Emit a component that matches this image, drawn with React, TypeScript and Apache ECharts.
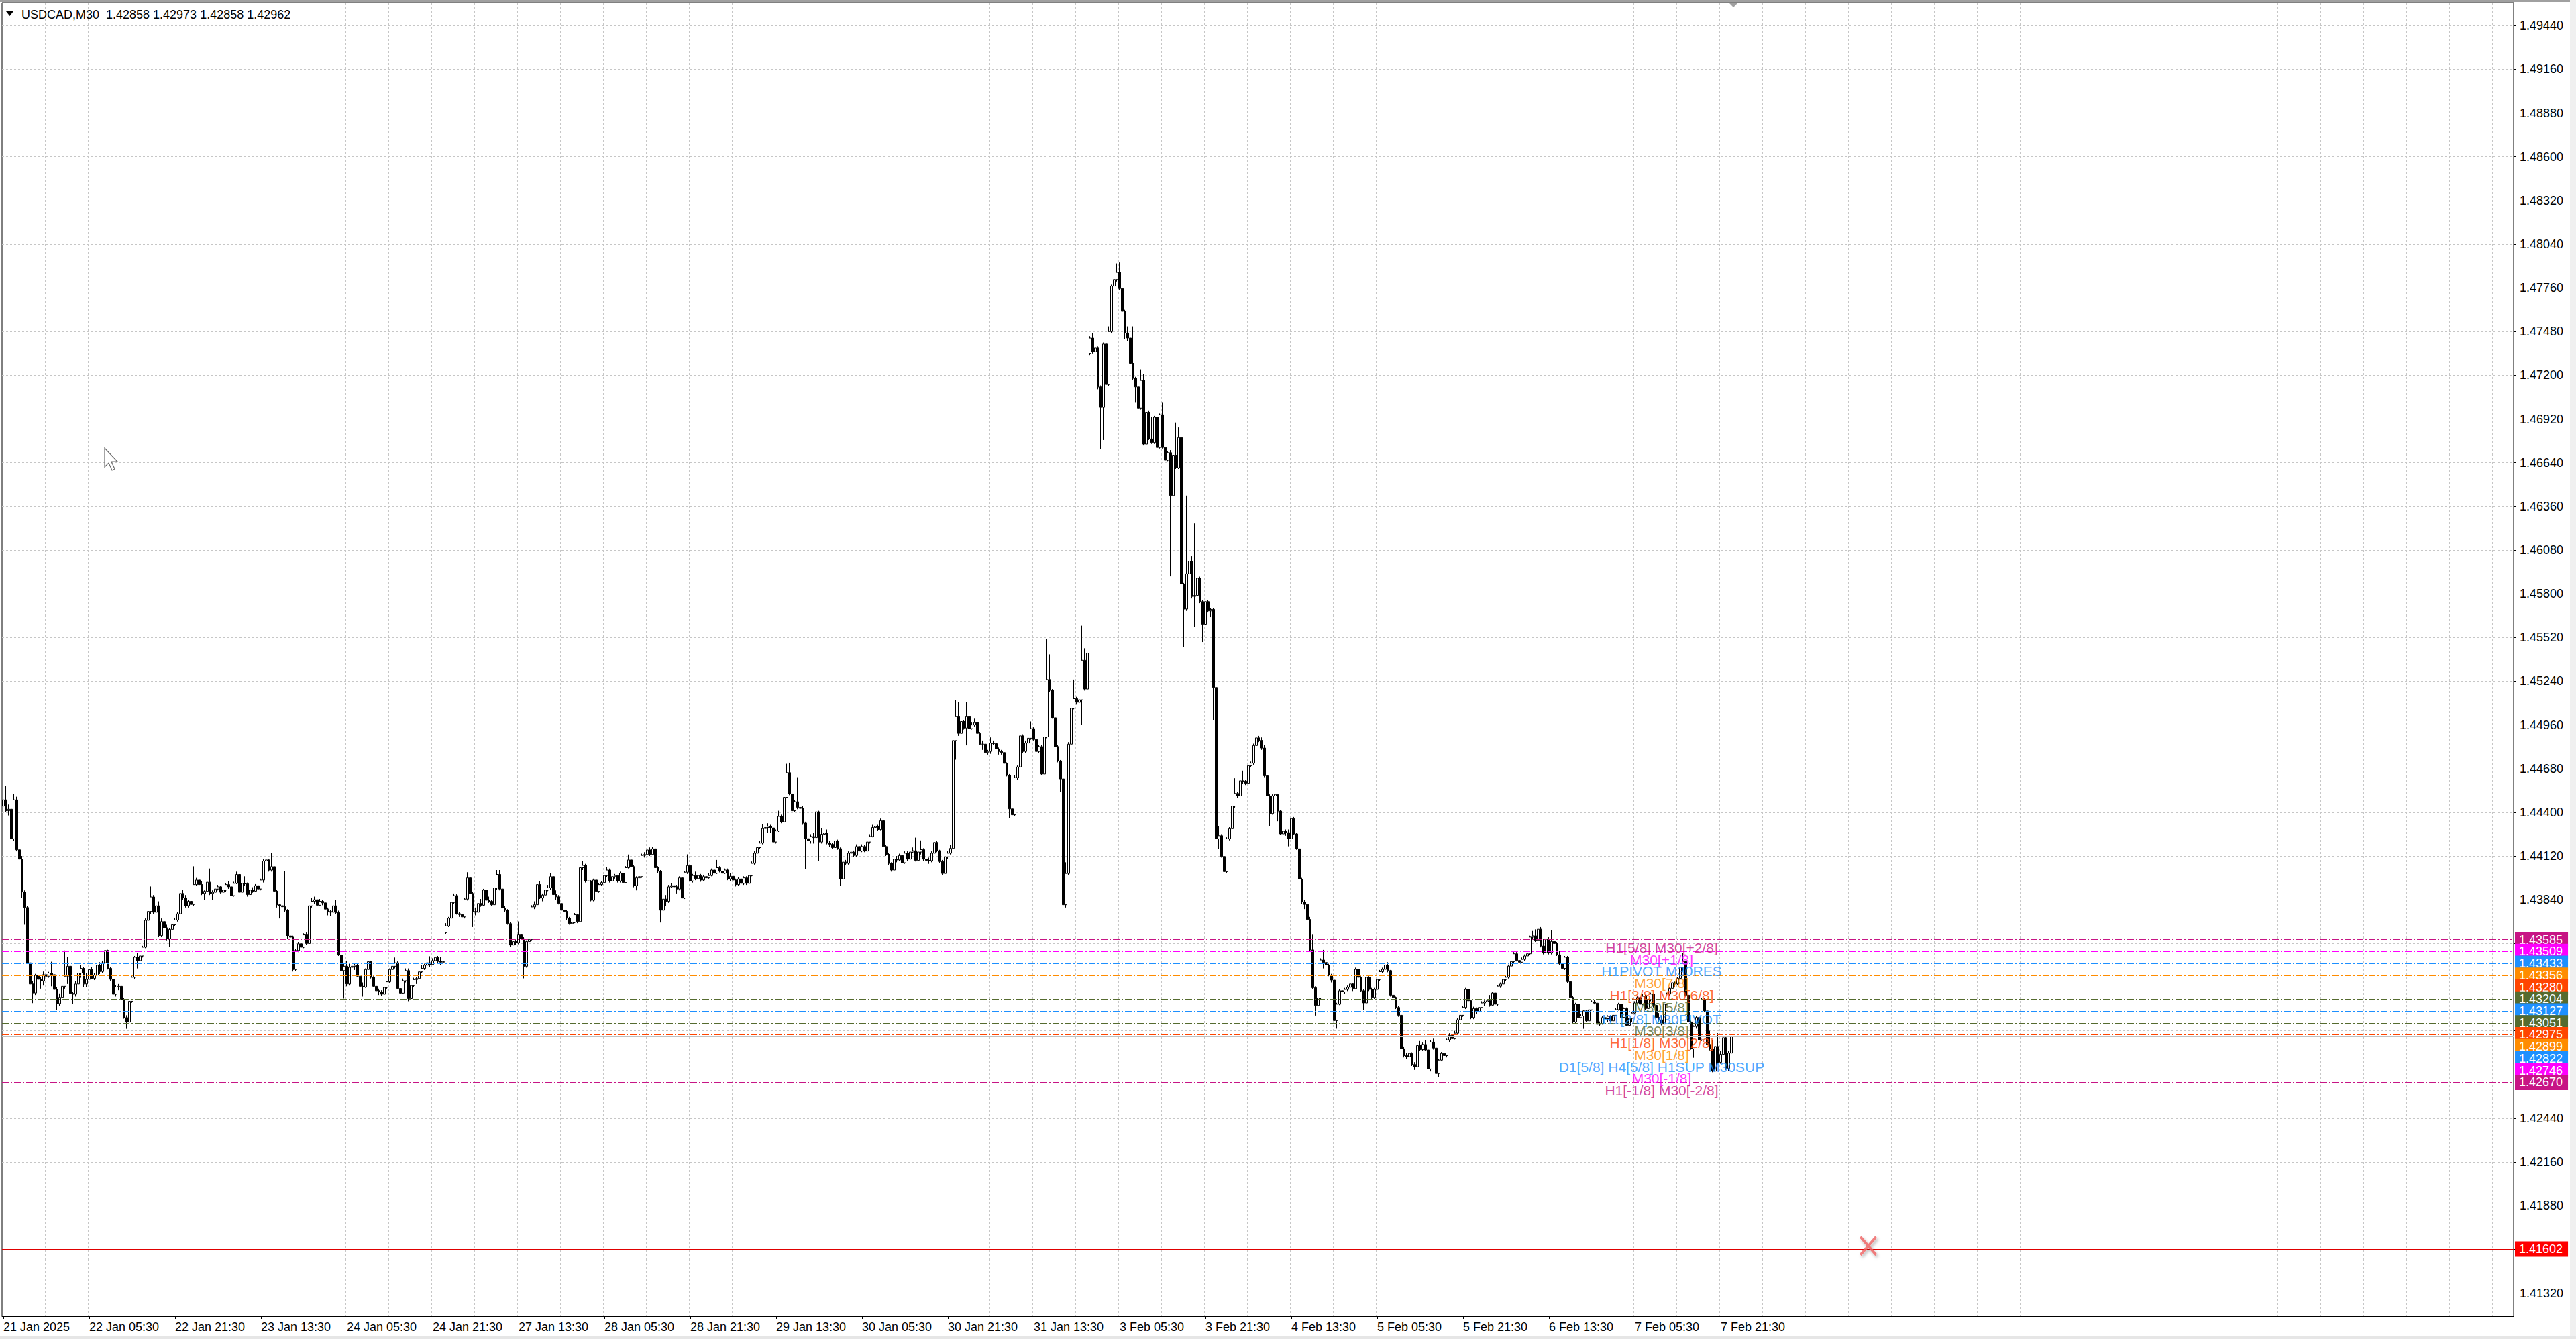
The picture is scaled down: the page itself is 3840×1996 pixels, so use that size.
import React, { useEffect, useRef } from 'react';
import * as echarts from 'echarts';

// chart window header
const symbolTitle = 'USDCAD,M30';
const lastBarQuote = '1.42858 1.42973 1.42858 1.42962';

// trading days on screen, the first one starts at 13:30
const tradingDays = ['21 Jan', '22 Jan', '23 Jan', '24 Jan', '27 Jan', '28 Jan', '29 Jan', '30 Jan', '31 Jan', '3 Feb', '4 Feb', '5 Feb', '6 Feb', '7 Feb'];
const firstDayLabel = '21 Jan 2025';
const firstDayStartSlot = 27;
const barsPerDay = 48;
const totalSlots = 936; // bar slots incl. the empty shift area on the right

// M30 bars: [open, close, low, high] in points above 1.40000
const jan21 = [
  [4440, 4480, 4400, 4520], [4480, 4410, 4400, 4568], [4410, 4420, 4380, 4450], [4420, 4230, 4220, 4440], [4230, 4480, 4215, 4520],
  [4480, 4160, 4150, 4500], [4160, 4100, 4000, 4245], [4100, 3890, 3850, 4120], [3890, 3790, 3680, 3900], [3790, 3436, 3430, 3800],
  [3436, 3300, 3290, 3470], [3300, 3243, 3178, 3320], [3243, 3357, 3230, 3365], [3357, 3330, 3300, 3390], [3330, 3320, 3270, 3345],
  [3320, 3360, 3290, 3380], [3360, 3350, 3320, 3390], [3350, 3370, 3340, 3378], [3370, 3360, 3285, 3443], [3360, 3265, 3250, 3380],
  [3265, 3175, 3135, 3280],
];
const jan22 = [
  [3175, 3215, 3160, 3240], [3215, 3285, 3200, 3300], [3285, 3350, 3270, 3515], [3350, 3414, 3300, 3472], [3414, 3240, 3230, 3420],
  [3240, 3235, 3171, 3250], [3235, 3300, 3220, 3320], [3300, 3370, 3290, 3380], [3370, 3400, 3340, 3420], [3400, 3300, 3280, 3410],
  [3300, 3330, 3280, 3370], [3330, 3392, 3320, 3400], [3392, 3336, 3330, 3410], [3336, 3357, 3325, 3370], [3357, 3421, 3350, 3472],
  [3421, 3380, 3364, 3440], [3380, 3436, 3370, 3450], [3436, 3515, 3420, 3550], [3515, 3400, 3393, 3520], [3400, 3330, 3321, 3410],
  [3330, 3235, 3228, 3340], [3235, 3280, 3220, 3293], [3280, 3285, 3260, 3300], [3285, 3200, 3190, 3295], [3200, 3085, 3078, 3210],
  [3085, 3056, 3013, 3100], [3056, 3190, 3050, 3200], [3190, 3343, 3180, 3350], [3343, 3472, 3330, 3480], [3472, 3450, 3400, 3500],
  [3450, 3480, 3407, 3490], [3480, 3536, 3470, 3545], [3536, 3708, 3530, 3720], [3708, 3765, 3690, 3780], [3765, 3858, 3750, 3925],
  [3858, 3760, 3750, 3870], [3760, 3801, 3740, 3830], [3801, 3610, 3600, 3830], [3610, 3700, 3600, 3720], [3700, 3660, 3640, 3715],
  [3660, 3590, 3580, 3680], [3590, 3650, 3540, 3660], [3650, 3680, 3640, 3700], [3680, 3710, 3670, 3725], [3710, 3750, 3700, 3760],
  [3750, 3880, 3740, 3900], [3880, 3852, 3840, 3905], [3852, 3802, 3790, 3870],
];
const jan23 = [
  [3802, 3830, 3790, 3840], [3830, 3810, 3800, 3840], [3810, 3937, 3800, 4054], [3937, 3966, 3930, 3980], [3966, 3937, 3925, 3975],
  [3937, 3880, 3870, 3960], [3880, 3894, 3840, 3900], [3894, 3952, 3880, 3960], [3952, 3880, 3870, 4040], [3880, 3888, 3840, 3900],
  [3888, 3909, 3880, 3920], [3909, 3923, 3900, 3935], [3923, 3888, 3880, 3930], [3888, 3902, 3870, 3910], [3902, 3937, 3890, 3945],
  [3937, 3923, 3910, 3960], [3923, 3866, 3860, 3940], [3866, 3945, 3860, 3955], [3945, 4002, 3940, 4020], [4002, 3888, 3880, 4010],
  [3888, 3945, 3880, 3955], [3945, 3942, 3930, 3990], [3942, 3873, 3860, 3950], [3873, 3902, 3865, 3910], [3902, 3895, 3885, 3920],
  [3895, 3930, 3890, 3940], [3930, 3909, 3900, 3935], [3909, 3966, 3900, 3975], [3966, 4088, 3950, 4100], [4088, 4095, 4040, 4110],
  [4095, 4030, 4020, 4100], [4030, 4052, 4020, 4138], [4052, 3895, 3890, 4060], [3895, 3808, 3790, 3905], [3808, 3802, 3720, 3815],
  [3802, 3795, 3730, 3820], [3795, 3773, 3760, 4023], [3773, 3608, 3590, 3780], [3608, 3600, 3480, 3615], [3600, 3393, 3380, 3610],
  [3393, 3515, 3385, 3525], [3515, 3558, 3505, 3570], [3558, 3536, 3460, 3580], [3536, 3615, 3530, 3625], [3615, 3560, 3550, 3630],
  [3560, 3801, 3550, 3815], [3801, 3830, 3790, 3850], [3830, 3840, 3815, 3860],
];
const jan24 = [
  [3840, 3805, 3795, 3850], [3805, 3830, 3800, 3845], [3830, 3820, 3805, 3840], [3820, 3780, 3770, 3830], [3780, 3765, 3740, 3790],
  [3765, 3760, 3735, 3775], [3760, 3801, 3750, 3810], [3801, 3758, 3750, 3840], [3758, 3486, 3480, 3770], [3486, 3386, 3370, 3495],
  [3386, 3414, 3207, 3430], [3414, 3300, 3285, 3450], [3300, 3407, 3290, 3436], [3407, 3414, 3395, 3425], [3414, 3420, 3390, 3430],
  [3420, 3350, 3345, 3430], [3350, 3285, 3280, 3360], [3285, 3280, 3220, 3310], [3280, 3393, 3275, 3400], [3393, 3443, 3385, 3490],
  [3443, 3343, 3335, 3450], [3343, 3285, 3280, 3350], [3285, 3257, 3150, 3295], [3257, 3250, 3230, 3270], [3250, 3235, 3225, 3260],
  [3235, 3278, 3220, 3290], [3278, 3314, 3270, 3320], [3314, 3393, 3305, 3400], [3393, 3414, 3380, 3500], [3414, 3436, 3400, 3470],
  [3436, 3271, 3265, 3445], [3271, 3242, 3235, 3280], [3242, 3321, 3235, 3335], [3321, 3386, 3310, 3400], [3386, 3207, 3190, 3400],
  [3207, 3290, 3180, 3336], [3290, 3328, 3280, 3340], [3328, 3335, 3300, 3345], [3335, 3378, 3325, 3385], [3378, 3400, 3370, 3420],
  [3400, 3421, 3390, 3430], [3421, 3436, 3415, 3445], [3436, 3425, 3410, 3478], [3425, 3450, 3420, 3465], [3450, 3470, 3440, 3485],
  [3470, 3445, 3430, 3480], [3445, 3440, 3420, 3475], [3440, 3443, 3360, 3455],
];
const jan27 = [
  [3629, 3672, 3620, 3690], [3672, 3722, 3665, 3730], [3722, 3823, 3715, 3866], [3823, 3866, 3815, 3880], [3866, 3751, 3745, 3875],
  [3751, 3745, 3730, 3760], [3745, 3730, 3658, 3760], [3730, 3844, 3720, 3850], [3844, 3980, 3835, 4016], [3980, 3880, 3870, 4016],
  [3880, 3765, 3665, 3890], [3765, 3760, 3740, 3790], [3760, 3816, 3755, 3825], [3816, 3805, 3795, 3845], [3805, 3902, 3800, 3910],
  [3902, 3837, 3830, 3915], [3837, 3830, 3820, 3860], [3830, 3808, 3800, 3840], [3808, 3916, 3800, 3930], [3916, 4002, 3905, 4030],
  [4002, 3909, 3900, 4030], [3909, 3787, 3780, 3925], [3787, 3773, 3760, 3800], [3773, 3687, 3680, 3780], [3687, 3550, 3540, 3695],
  [3550, 3572, 3530, 3600], [3572, 3565, 3550, 3590], [3565, 3615, 3555, 3701], [3615, 3590, 3580, 3625], [3590, 3414, 3336, 3600],
  [3414, 3572, 3405, 3580], [3572, 3586, 3560, 3600], [3586, 3794, 3580, 3805], [3794, 3808, 3780, 3830], [3808, 3937, 3800, 3950],
  [3937, 3851, 3845, 3960], [3851, 3870, 3830, 3880], [3870, 3902, 3860, 3930], [3902, 3916, 3895, 3935], [3916, 3988, 3905, 4010],
  [3988, 3873, 3865, 3995], [3873, 3859, 3840, 3900], [3859, 3816, 3810, 3870], [3816, 3773, 3765, 3830], [3773, 3765, 3720, 3780],
  [3765, 3722, 3710, 3775], [3722, 3687, 3680, 3730], [3687, 3695, 3675, 3720],
];
const jan28 = [
  [3695, 3744, 3690, 3755], [3744, 3700, 3690, 3750], [3700, 4045, 3695, 4159], [4045, 4060, 4030, 4090], [4060, 3960, 3950, 4070],
  [3960, 3960, 3940, 3980], [3960, 3837, 3830, 3965], [3837, 3966, 3830, 3975], [3966, 3894, 3885, 3990], [3894, 3937, 3885, 3945],
  [3937, 3950, 3930, 3960], [3950, 3995, 3940, 4005], [3995, 4030, 3985, 4050], [4030, 3960, 3950, 4040], [3960, 3988, 3950, 4000],
  [3988, 3995, 3975, 4005], [3995, 3960, 3950, 4000], [3960, 4010, 3950, 4020], [4010, 3950, 3940, 4020], [3950, 4045, 3945, 4055],
  [4045, 4095, 4040, 4130], [4095, 4052, 4045, 4110], [4052, 3930, 3920, 4060], [3930, 3980, 3900, 3990], [3980, 3988, 3970, 4000],
  [3988, 4124, 3980, 4135], [4124, 4130, 4110, 4145], [4130, 4159, 4120, 4200], [4159, 4130, 4120, 4175], [4130, 4166, 4125, 4180],
  [4166, 4045, 4040, 4175], [4045, 4023, 4010, 4055], [4023, 3773, 3694, 4030], [3773, 3844, 3760, 3855], [3844, 3830, 3800, 3870],
  [3830, 3923, 3820, 3935], [3923, 3930, 3915, 3945], [3930, 3923, 3900, 3950], [3923, 3909, 3880, 3935], [3909, 3980, 3900, 3990],
  [3980, 3851, 3840, 3995], [3851, 4016, 3845, 4025], [4016, 4059, 4005, 4131], [4059, 3960, 3950, 4070], [3960, 3995, 3950, 4005],
  [3995, 3975, 3965, 4020], [3975, 3995, 3970, 4010], [3995, 3966, 3955, 4005],
];
const jan29 = [
  [3966, 3988, 3960, 4000], [3988, 3980, 3970, 4000], [3980, 3995, 3975, 4010], [3995, 4030, 3990, 4040], [4030, 4010, 4000, 4045],
  [4010, 4045, 4005, 4095], [4045, 4023, 4015, 4055], [4023, 4010, 4000, 4035], [4010, 4030, 4005, 4040], [4030, 3973, 3965, 4040],
  [3973, 3990, 3960, 4010], [3990, 3966, 3955, 4000], [3966, 3937, 3925, 3975], [3937, 3973, 3930, 3985], [3973, 3945, 3935, 3980],
  [3945, 3980, 3935, 3990], [3980, 3945, 3935, 3990], [3945, 3995, 3940, 4005], [3995, 4073, 3990, 4085], [4073, 4138, 4065, 4150],
  [4138, 4174, 4130, 4185], [4174, 4203, 4165, 4215], [4203, 4296, 4195, 4324], [4296, 4303, 4290, 4320], [4303, 4310, 4270, 4330],
  [4310, 4300, 4270, 4320], [4300, 4210, 4200, 4310], [4210, 4281, 4200, 4290], [4281, 4374, 4275, 4410], [4374, 4339, 4330, 4385],
  [4339, 4496, 4330, 4505], [4496, 4654, 4490, 4711], [4654, 4518, 4510, 4718], [4518, 4410, 4224, 4530], [4410, 4468, 4400, 4480],
  [4468, 4432, 4420, 4625], [4432, 4425, 4400, 4580], [4425, 4331, 4320, 4440], [4331, 4231, 4038, 4340], [4231, 4217, 4160, 4240],
  [4217, 4245, 4200, 4260], [4245, 4238, 4200, 4270], [4238, 4403, 4230, 4460], [4403, 4210, 4088, 4410], [4210, 4260, 4200, 4300],
  [4260, 4267, 4250, 4303], [4267, 4203, 4195, 4290], [4203, 4195, 4180, 4215],
];
const jan30 = [
  [4195, 4174, 4165, 4205], [4174, 4217, 4165, 4240], [4217, 4167, 4160, 4225], [4167, 3973, 3930, 4175], [3973, 4081, 3965, 4090],
  [4081, 4073, 4060, 4095], [4073, 4138, 4065, 4150], [4138, 4145, 4130, 4155], [4145, 4124, 4115, 4155], [4124, 4181, 4115, 4195],
  [4181, 4152, 4145, 4190], [4152, 4181, 4145, 4195], [4181, 4152, 4145, 4190], [4152, 4210, 4145, 4220], [4210, 4245, 4200, 4260],
  [4245, 4303, 4240, 4320], [4303, 4310, 4295, 4340], [4310, 4290, 4280, 4320], [4290, 4346, 4285, 4360], [4346, 4181, 4175, 4355],
  [4181, 4131, 4120, 4190], [4131, 4073, 4060, 4140], [4073, 4030, 4020, 4080], [4030, 4100, 4020, 4110], [4100, 4095, 4080, 4120],
  [4095, 4123, 4090, 4135], [4123, 4077, 4070, 4130], [4077, 4138, 4070, 4150], [4138, 4100, 4090, 4150], [4100, 4146, 4090, 4155],
  [4146, 4154, 4140, 4175], [4154, 4092, 4085, 4238], [4092, 4146, 4085, 4160], [4146, 4161, 4130, 4220], [4161, 4100, 4090, 4170],
  [4100, 4092, 4000, 4110], [4092, 4090, 4070, 4110], [4090, 4138, 4080, 4150], [4138, 4207, 4130, 4225], [4207, 4154, 4145, 4215],
  [4154, 4085, 4075, 4160], [4085, 4008, 4000, 4095], [4008, 4115, 4000, 4125], [4115, 4138, 4100, 4150], [4138, 4169, 4130, 4190],
  [4169, 4860, 4160, 5950], [4860, 5013, 4737, 5121], [5013, 4906, 4890, 5105],
];
const jan31 = [
  [4906, 4982, 4900, 4990], [4982, 4940, 4930, 4990], [4940, 5013, 4829, 5105], [5013, 4936, 4925, 5020], [4936, 4960, 4930, 4975],
  [4960, 4975, 4950, 5000], [4975, 4906, 4895, 4985], [4906, 4837, 4830, 4915], [4837, 4837, 4800, 4860], [4837, 4783, 4722, 4845],
  [4783, 4790, 4770, 4800], [4790, 4844, 4775, 4880], [4844, 4840, 4830, 4860], [4840, 4806, 4800, 4850], [4806, 4790, 4770, 4815],
  [4790, 4783, 4770, 4800], [4783, 4714, 4700, 4790], [4714, 4637, 4630, 4720], [4637, 4422, 4361, 4645], [4422, 4384, 4315, 4430],
  [4384, 4622, 4375, 4640], [4622, 4691, 4610, 4700], [4691, 4890, 4685, 4900], [4890, 4790, 4780, 4900], [4790, 4844, 4780, 4860],
  [4844, 4875, 4835, 4885], [4875, 4936, 4865, 4982], [4936, 4867, 4860, 4945], [4867, 4790, 4780, 4875], [4790, 4821, 4780, 4830],
  [4821, 4645, 4640, 4830], [4645, 4883, 4614, 4890], [4883, 5251, 4875, 5512], [5251, 5182, 5170, 5412], [5182, 5006, 5000, 5190],
  [5006, 4821, 4675, 5015], [4821, 4729, 4720, 4830], [4729, 4614, 4530, 4735], [4614, 3808, 3731, 4620], [3808, 4008, 3790, 4080],
  [4008, 4837, 4000, 4850], [4837, 5067, 4830, 5080], [5067, 5128, 5060, 5251], [5128, 5105, 5090, 5140], [5105, 5121, 5100, 5140],
  [5121, 5374, 4960, 5596], [5374, 5190, 5180, 5451], [5190, 5420, 5180, 5527],
];
const feb3 = [
  [7341, 7438, 7330, 7450], [7438, 7351, 7340, 7471], [7351, 7374, 7044, 7503], [7374, 7125, 7110, 7385], [7125, 6995, 6727, 7135],
  [6995, 7400, 6785, 7410], [7400, 7141, 7130, 7503], [7141, 7480, 7130, 7513], [7480, 7771, 7470, 7780], [7771, 7813, 7760, 7830],
  [7813, 7859, 7800, 7917], [7859, 7755, 7745, 7923], [7755, 7610, 7351, 7765], [7610, 7471, 7432, 7620], [7471, 7438, 7420, 7513],
  [7438, 7277, 7265, 7448], [7277, 7180, 7170, 7513], [7180, 7125, 7028, 7190], [7125, 6990, 6979, 7244], [6990, 7167, 6980, 7238],
  [7167, 6759, 6750, 7206], [6759, 6963, 6750, 6970], [6963, 6792, 6785, 6975], [6792, 6769, 6760, 6931], [6769, 6931, 6760, 6940],
  [6931, 6737, 6656, 6940], [6737, 6947, 6730, 6955], [6947, 6737, 6730, 7028], [6737, 6656, 6645, 6745], [6656, 6704, 6650, 6715],
  [6704, 6429, 5912, 6720], [6429, 6688, 6420, 6700], [6688, 6607, 6600, 6898], [6607, 6801, 6600, 6866], [6801, 5863, 5491, 7012],
  [5863, 5702, 5459, 5870], [5702, 5928, 5690, 6429], [5928, 6009, 5920, 6106], [6009, 5783, 5770, 6041], [5783, 5790, 5588, 6251],
  [5790, 5900, 5780, 5930], [5900, 5750, 5740, 5910], [5750, 5605, 5491, 5760], [5605, 5750, 5600, 5760], [5750, 5690, 5680, 5760],
  [5690, 5700, 5650, 5710], [5700, 5200, 4990, 5710], [5200, 4230, 3907, 5249],
];
const feb4 = [
  [4230, 4250, 4166, 4311], [4250, 4117, 4110, 4260], [4117, 4020, 3875, 4125], [4020, 4230, 4010, 4240], [4230, 4295, 4220, 4305],
  [4295, 4440, 4285, 4450], [4440, 4521, 4430, 4618], [4521, 4505, 4490, 4530], [4505, 4602, 4495, 4610], [4602, 4600, 4580, 4667],
  [4600, 4586, 4575, 4610], [4586, 4699, 4580, 4710], [4699, 4715, 4690, 4725], [4715, 4828, 4705, 4840], [4828, 4877, 4820, 5039],
  [4877, 4861, 4850, 4890], [4861, 4812, 4800, 4880], [4812, 4634, 4625, 4830], [4634, 4505, 4495, 4640], [4505, 4392, 4311, 4515],
  [4392, 4505, 4385, 4515], [4505, 4515, 4490, 4618], [4515, 4408, 4343, 4520], [4408, 4262, 4255, 4415], [4262, 4279, 4250, 4376],
  [4279, 4270, 4250, 4290], [4270, 4230, 4182, 4290], [4230, 4360, 4220, 4418], [4360, 4262, 4255, 4370], [4262, 4166, 4160, 4270],
  [4166, 3972, 3965, 4180], [3972, 3826, 3815, 3980], [3826, 3810, 3780, 3840], [3810, 3713, 3700, 3820], [3713, 3519, 3510, 3730],
  [3519, 3276, 3265, 3616], [3276, 3163, 3098, 3285], [3163, 3211, 3150, 3220], [3211, 3454, 3200, 3465], [3454, 3438, 3400, 3519],
  [3438, 3422, 3410, 3445], [3422, 3357, 3350, 3430], [3357, 3325, 3310, 3365], [3325, 3066, 3017, 3330], [3066, 3171, 3014, 3180],
  [3171, 3257, 3165, 3265], [3257, 3250, 3240, 3293], [3250, 3265, 3236, 3275],
];
const feb5 = [
  [3265, 3279, 3255, 3290], [3279, 3300, 3265, 3310], [3300, 3270, 3255, 3305], [3270, 3394, 3265, 3405], [3394, 3343, 3335, 3400],
  [3343, 3257, 3250, 3350], [3257, 3179, 3136, 3265], [3179, 3343, 3170, 3350], [3343, 3265, 3255, 3350], [3265, 3214, 3205, 3275],
  [3214, 3265, 3205, 3275], [3265, 3329, 3260, 3340], [3329, 3379, 3320, 3390], [3379, 3394, 3370, 3405], [3394, 3422, 3385, 3451],
  [3422, 3386, 3375, 3440], [3386, 3229, 3220, 3390], [3229, 3214, 3200, 3315], [3214, 3150, 3140, 3220], [3150, 3100, 3090, 3160],
  [3100, 2885, 2875, 3110], [2885, 2842, 2830, 2900], [2842, 2835, 2820, 2860], [2835, 2856, 2825, 2870], [2856, 2785, 2775, 2863],
  [2785, 2770, 2750, 2800], [2770, 2906, 2760, 2915], [2906, 2880, 2870, 2935], [2880, 2913, 2870, 2925], [2913, 2878, 2870, 2940],
  [2878, 2756, 2720, 2890], [2756, 2928, 2740, 2940], [2928, 2890, 2880, 2950], [2890, 2727, 2706, 2930], [2727, 2813, 2706, 2820],
  [2813, 2856, 2805, 2865], [2856, 2842, 2830, 2890], [2842, 2942, 2830, 2950], [2942, 2971, 2930, 2985], [2971, 2950, 2925, 2990],
  [2950, 2985, 2945, 3000], [2985, 3071, 2975, 3080], [3071, 3100, 3060, 3110], [3100, 3150, 3090, 3160], [3150, 3265, 3140, 3275],
  [3265, 3193, 3185, 3280], [3193, 3085, 3075, 3200], [3085, 3143, 3075, 3155],
];
const feb6 = [
  [3143, 3121, 3110, 3150], [3121, 3150, 3115, 3160], [3150, 3179, 3145, 3190], [3179, 3186, 3160, 3195], [3186, 3193, 3180, 3205],
  [3193, 3165, 3155, 3230], [3165, 3243, 3160, 3250], [3243, 3171, 3165, 3250], [3171, 3286, 3160, 3295], [3286, 3300, 3275, 3310],
  [3300, 3329, 3290, 3340], [3329, 3343, 3320, 3355], [3343, 3415, 3335, 3425], [3415, 3444, 3405, 3455], [3444, 3494, 3435, 3505],
  [3494, 3451, 3445, 3505], [3451, 3440, 3430, 3490], [3440, 3458, 3435, 3470], [3458, 3480, 3450, 3490], [3480, 3494, 3470, 3505],
  [3494, 3601, 3485, 3610], [3601, 3609, 3590, 3640], [3609, 3580, 3570, 3650], [3580, 3651, 3575, 3660], [3651, 3544, 3535, 3665],
  [3544, 3501, 3490, 3587], [3501, 3587, 3495, 3600], [3587, 3501, 3490, 3600], [3501, 3573, 3490, 3644], [3573, 3560, 3550, 3600],
  [3560, 3487, 3480, 3570], [3487, 3430, 3420, 3510], [3430, 3400, 3395, 3440], [3400, 3472, 3390, 3480], [3472, 3315, 3305, 3480],
  [3315, 3214, 3205, 3320], [3214, 3057, 3050, 3225], [3057, 3171, 3050, 3180], [3171, 3085, 3075, 3180], [3085, 3095, 3080, 3110],
  [3095, 3128, 3013, 3135], [3128, 3064, 3055, 3135], [3064, 3135, 3055, 3145], [3135, 3186, 3130, 3195], [3186, 3178, 3170, 3200],
  [3178, 3042, 3035, 3185], [3042, 3045, 3030, 3060], [3045, 3085, 3040, 3095],
];
const feb7 = [
  [3085, 3078, 3065, 3095], [3078, 3093, 3055, 3100], [3093, 3064, 3055, 3100], [3064, 3100, 3055, 3110], [3100, 3136, 3095, 3145],
  [3136, 3171, 3130, 3180], [3171, 3086, 3080, 3180], [3086, 3143, 3080, 3150], [3143, 3035, 3030, 3150], [3035, 3080, 3030, 3090],
  [3080, 3114, 3055, 3120], [3114, 3179, 3105, 3190], [3179, 3214, 3170, 3225], [3214, 3171, 3165, 3230], [3171, 3222, 3165, 3235],
  [3222, 3143, 3135, 3230], [3143, 3200, 3110, 3210], [3200, 3236, 3190, 3245], [3236, 3164, 3150, 3240], [3164, 3086, 3080, 3170],
  [3086, 3071, 3060, 3114], [3071, 3043, 3035, 3100], [3043, 3171, 3035, 3180], [3171, 3236, 3165, 3245], [3236, 3272, 3225, 3280],
  [3272, 3308, 3265, 3320], [3308, 3300, 3280, 3315], [3300, 3336, 3295, 3345], [3336, 3408, 3330, 3458], [3408, 3444, 3380, 3501],
  [3444, 3229, 3220, 3450], [3229, 3057, 3050, 3235], [3057, 2885, 2880, 3065], [2885, 3028, 2828, 3035], [3028, 3086, 3014, 3095],
  [3086, 2942, 2935, 3372], [2942, 3200, 2935, 3210], [3200, 3128, 3120, 3210], [3128, 2913, 2905, 3329], [2913, 2885, 2875, 3000],
  [2885, 2742, 2735, 2942], [2742, 2900, 2730, 3014], [2900, 2799, 2790, 2985], [2799, 2850, 2790, 2870], [2850, 2956, 2845, 2965],
  [2956, 2760, 2750, 2960], [2760, 2858, 2742, 2870], [2858, 2962, 2858, 2973],
];

// price scale
const yMin = 1.41172;
const yMax = 1.49587;
const yTicks = [
  1.4132, 1.416, 1.4188, 1.4216, 1.4244, 1.4272, 1.43, 1.4328, 1.4356, 1.4384, 1.4412, 1.444, 1.4468, 1.4496, 1.4524,
  1.4552, 1.458, 1.4608, 1.4636, 1.4664, 1.4692, 1.472, 1.4748, 1.4776, 1.4804, 1.4832, 1.486, 1.4888, 1.4916, 1.4944,
];

// Murrey-style levels drawn by the indicator
const levelPrices = [1.43585, 1.43509, 1.43433, 1.43356, 1.4328, 1.43204, 1.43127, 1.43051, 1.42975, 1.42899, 1.42822, 1.42746, 1.4267];
const levelColors = ['#c71585', '#ff00ff', '#1e90ff', '#ff8c00', '#ff4500', '#556b2f', '#1e90ff', '#556b2f', '#ff4500', '#ff8c00', '#1e90ff', '#ff00ff', '#c71585'];
const levelNames = [
  'H1[5/8] M30[+2/8]', 'M30[+1/8]', 'H1PIVOT M30RES', 'M30[7/8]', 'H1[3/8] M30[6/8]', 'M30[5/8]', 'H1[2/8] M30PIVOT',
  'M30[3/8]', 'H1[1/8] M30[2/8]', 'M30[1/8]', 'D1[5/8] H4[5/8] H1SUP M30SUP', 'M30[-1/8]', 'H1[-1/8] M30[-2/8]',
];
const solidLevel = 1.42822;
const levelLabelBar = 618;

const bidPrice = 1.42962;
const stopPrice = 1.41602;
const stopMark = [695, 1.41622];

const FONT = 'Liberation Sans';

const toPrice = (p: number) => +(1.4 + p / 100000).toFixed(5);

const App: React.FC = () => {
  const chartRef = useRef<HTMLDivElement | null>(null);

  useEffect(() => {
    if (!chartRef.current) return;
    const chart = echarts.init(chartRef.current, undefined, { renderer: 'svg' });

    const bars = [...jan21, ...jan22, ...jan23, ...jan24, ...jan27, ...jan28, ...jan29, ...jan30, ...jan31, ...feb3, ...feb4, ...feb5, ...feb6, ...feb7]
      .map((b) => b.map(toPrice));

    const categories: string[] = [];
    tradingDays.forEach((day, d) => {
      for (let s = d === 0 ? firstDayStartSlot : 0; s < barsPerDay; s++) {
        const hh = String(Math.floor(s / 2)).padStart(2, '0');
        categories.push(`${day} ${hh}:${s % 2 ? '30' : '00'}`);
      }
    });
    const dataBars = categories.length;
    while (categories.length < totalSlots) categories.push('');

    // tick labels hidden behind the coloured price boxes on the right
    const boxPrices = [...levelPrices, stopPrice];
    const shownTickLabels = yTicks.filter((t) => boxPrices.every((p) => Math.abs(p - t) > 0.0005));

    const labelBox = (color: string) => ({
      show: true,
      position: 'end',
      distance: 2,
      color: '#fff',
      backgroundColor: color,
      padding: [3, 8, 2, 6],
      fontSize: 18,
      fontFamily: FONT,
    });

    // one horizontal line series per price level, each carrying its own markLine
    const hLine = (price: number, color: string, type: any, label: any) => ({
      type: 'line',
      data: [],
      silent: true,
      z: 3,
      markLine: {
        symbol: ['none', 'none'],
        silent: true,
        animation: false,
        precision: 5,
        lineStyle: { color, type, width: 1 },
        label,
        data: [{ yAxis: price }],
      },
    });

    const levelSeries = [
      hLine(bidPrice, '#c0c0c0', 'solid', { show: false }),
      ...levelPrices.map((p, i) =>
        hLine(p, levelColors[i], p === solidLevel ? 'solid' : [10, 3, 2, 3], { ...labelBox(levelColors[i]), formatter: p.toFixed(5) }),
      ),
      hLine(stopPrice, '#e00000', 'solid', { ...labelBox('#ff0000'), formatter: stopPrice.toFixed(5) }),
    ];

    const options = {
      animation: false,
      textStyle: { fontFamily: FONT },
      grid: {
        left: 3,
        right: 93,
        top: 4,
        bottom: 34,
        show: true,
        borderColor: '#000',
        borderWidth: 1,
        backgroundColor: '#fff',
        containLabel: false,
        outerBoundsMode: 'none',
      },
      xAxis: {
        type: 'category',
        data: categories,
        boundaryGap: true,
        axisLine: { lineStyle: { color: '#000', width: 1 } },
        axisTick: {
          show: true,
          alignWithLabel: true,
          length: 4,
          interval: (i: number) => i % 32 === 0 && i < dataBars,
          lineStyle: { color: '#000' },
        },
        axisLabel: {
          interval: (i: number) => i % 32 === 0 && i < dataBars,
          align: 'left',
          margin: 7,
          fontSize: 18,
          fontFamily: FONT,
          color: '#000',
          formatter: (v: string, i: number) => (i === 0 ? firstDayLabel : v),
        },
        splitLine: {
          show: true,
          interval: (i: number) => i % 16 === 0 && i > 0,
          lineStyle: { color: '#c6c6c6', type: [3, 3], width: 1 },
        },
      },
      yAxis: {
        type: 'value',
        position: 'right',
        min: yMin,
        max: yMax,
        scale: true,
        axisLine: { show: true, lineStyle: { color: '#000' } },
        axisTick: { show: true, length: 4, customValues: yTicks, lineStyle: { color: '#000' } },
        axisLabel: {
          customValues: shownTickLabels,
          formatter: (v: number) => v.toFixed(5),
          margin: 9,
          fontSize: 18,
          fontFamily: FONT,
          color: '#000',
        },
        splitLine: { show: true, lineStyle: { color: '#c6c6c6', type: [3, 3], width: 1 } },
      },
      series: [
        ...levelSeries,
        {
          type: 'candlestick',
          data: bars,
          barWidth: 3,
          large: false,
          z: 4,
          itemStyle: { color: '#ffffff', color0: '#000000', borderColor: '#000000', borderColor0: '#000000', borderWidth: 1 },
        },
        {
          type: 'scatter',
          silent: true,
          z: 6,
          symbolSize: 1,
          itemStyle: { color: 'rgba(0,0,0,0)' },
          label: { show: true, position: 'bottom', distance: 1, fontSize: 21, fontFamily: FONT },
          data: levelPrices.map((p, i) => ({
            value: [levelLabelBar, p],
            label: { color: levelColors[i], formatter: levelNames[i] },
          })),
        },
        {
          type: 'scatter',
          silent: true,
          z: 5,
          symbol: 'path://M2,0 L10,8 L18,0 L20,2 L12,10 L20,18 L18,20 L10,12 L2,20 L0,18 L8,10 L0,2 Z',
          symbolSize: [26, 30],
          itemStyle: { color: '#ef6262', shadowColor: 'rgba(0,0,0,0.35)', shadowBlur: 4, shadowOffsetX: 2, shadowOffsetY: 3 },
          data: [stopMark],
        },
      ],
      graphic: [
        { type: 'rect', z: 100, shape: { x: 0, y: 0, width: 3840, height: 3 }, style: { fill: '#a0a0a0' } },
        { type: 'rect', z: 100, shape: { x: 3831, y: 0, width: 9, height: 1996 }, style: { fill: '#f0f0f0' } },
        { type: 'rect', z: 100, shape: { x: 0, y: 1991, width: 3840, height: 5 }, style: { fill: '#e6e6e6' } },
        { type: 'polygon', z: 100, shape: { points: [[9, 17], [20, 17], [14.5, 24]] }, style: { fill: '#000' } },
        { type: 'text', z: 100, left: 32, top: 13, style: { text: symbolTitle, fontSize: 18, fontFamily: FONT, fill: '#000' } },
        { type: 'text', z: 100, left: 158, top: 13, style: { text: lastBarQuote, fontSize: 18, fontFamily: FONT, fill: '#000' } },
        { type: 'polygon', z: 100, shape: { points: [[2577, 4], [2591, 4], [2584, 11]] }, style: { fill: '#a0a0a0' } },
        {
          type: 'polygon',
          z: 100,
          shape: { points: [[156, 668], [156, 696], [162, 690], [167, 701], [171, 699], [166, 688], [175, 688]] },
          style: { fill: '#ffffff', stroke: '#6a6a6a', lineWidth: 1.2 },
        },
      ],
    };

    chart.setOption(options as any);

    const handleResize = () => chart.resize();
    window.addEventListener('resize', handleResize);

    return () => {
      window.removeEventListener('resize', handleResize);
      chart.dispose();
    };
  }, []);

  return <div ref={chartRef} style={{ position: 'fixed', left: 0, top: 0, width: '100vw', height: '100vh', background: '#fff' }} />;
};

export default App;
